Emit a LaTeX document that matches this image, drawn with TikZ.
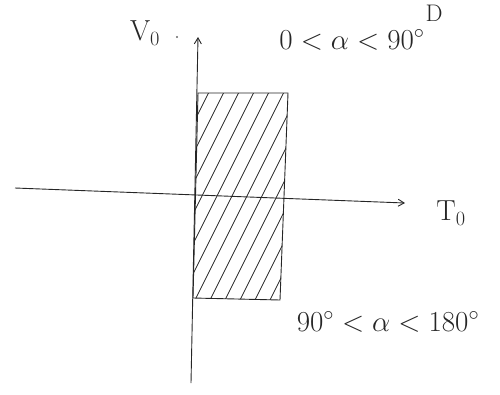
\RequirePackage{fix-cm}
\documentclass[tikz,border=0pt]{standalone}
\usetikzlibrary{arrows.meta}
\begin{document}
\begin{tikzpicture}[x=1pt,y=-1pt,line width=0.9pt,
  ink/.style={draw=black!85},
  lab/.style={font=\fontsize{29}{32}\selectfont, inner sep=0pt, text=black!85},
  tip/.style={-{Straight Barb[length=6pt,width=7pt]}}]
\useasboundingbox (0,0) rectangle (500,394);
% axes
\coordinate (vtop) at (198,37);
\coordinate (vbot) at (191,383);
\coordinate (hleft) at (15,188);
\coordinate (hright) at (405,203);
\draw[ink,tip] (vbot) -- (vtop);
\draw[ink,tip] (hleft) -- (hright);
% region
\coordinate (A) at (198,93);
\coordinate (B) at (288,93);
\coordinate (C) at (280,300);
\coordinate (D) at (193,298);
\draw[ink] (A) -- (B) -- (C) -- (D) -- cycle;
\begin{scope}
  \clip (A) -- (B) -- (C) -- (D) -- cycle;
  \foreach \c in {100,115,...,280} \draw[ink,line width=0.8pt] (\c,310) -- ++(115,-230);
\end{scope}
% labels
\node[lab] (v0) at (145,33) {V$_0$};
\node[circle,fill=black!60,inner sep=0.8pt] (vdot) at (177,37) {};
\node[lab] (r1) at (352,40) {$0<\alpha<90^\circ$};
\node[lab,font=\fontsize{24}{26}\selectfont] (dd) at (434,13) {D};
\node[lab] (t0) at (451,213) {T$_0$};
\node[lab] (r2) at (388,322) {$90^\circ<\alpha<180^\circ$};
\end{tikzpicture}
\end{document}
